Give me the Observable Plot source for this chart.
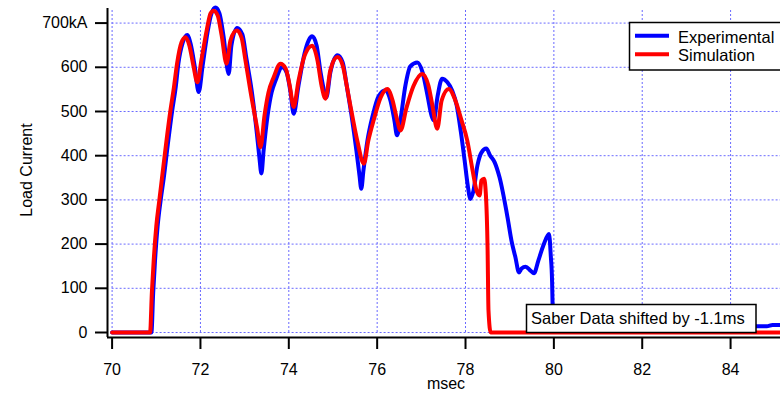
<!DOCTYPE html>
<html><head><meta charset="utf-8">
<script src="https://cdn.jsdelivr.net/npm/d3@7"></script>
<script src="https://cdn.jsdelivr.net/npm/@observablehq/plot@0.6"></script>
<style>
body{margin:0;background:#fff;}
svg{font-family:"Liberation Sans",Arial,sans-serif;}
</style>
</head><body><div id="chart"></div>
<script>
const xTicks = [70, 72, 74, 76, 78, 80, 82, 84];
const yTicks = [0, 100, 200, 300, 400, 500, 600, 700];
const yTickLabels = ["0", "100", "200", "300", "400", "500", "600", "700kA"];
const seriesNames = ["Experimental", "Simulation"];
const seriesColors = ["#0000ff", "#ff0000"];
const note = "Saber Data shifted by -1.1ms";
const xLabel = "msec";
const yLabel = "Load Current";

const expTime = [70.00,70.89,70.93,70.97,71.03,71.10,71.17,71.26,71.36,71.44,71.50,71.60,71.70,71.78,71.87,71.96,72.05,72.16,72.25,72.34,72.43,72.52,72.64,72.70,72.83,72.95,73.04,73.16,73.27,73.33,73.38,73.43,73.52,73.61,73.70,73.85,73.95,74.04,74.11,74.22,74.36,74.45,74.53,74.63,74.72,74.81,74.85,74.94,75.10,75.22,75.31,75.42,75.53,75.60,75.64,75.69,75.78,75.90,76.03,76.19,76.30,76.39,76.45,76.53,76.64,76.75,76.91,77.03,77.14,77.23,77.28,77.37,77.47,77.59,77.70,77.80,77.89,77.98,78.05,78.11,78.18,78.27,78.36,78.47,78.56,78.66,78.77,78.95,79.04,79.13,79.21,79.27,79.36,79.47,79.55,79.65,79.77,79.89,79.93,79.96,79.97,79.99,80.15,81.0,82.0,83.0,84.0,84.59,84.82,84.95,85.13];
const expCurrent = [0,0,90,160,240,300,350,425,502,555,608,656,673,652,602,544,604,679,722,735,722,672,585,649,689,674,620,547,457,400,360,412,491,543,570,600,588,543,495,559,633,661,670,649,588,543,532,588,627,611,559,491,412,355,325,367,434,491,534,548,525,480,446,484,559,602,611,588,536,491,480,536,574,566,547,514,457,389,333,302,321,378,407,416,400,385,351,261,208,170,136,145,149,140,134,163,199,223,174,114,68,27,9,10,11,12,13,14,14,17,17];

const simTime = [70.00,70.86,70.90,70.94,71.00,71.07,71.13,71.22,71.32,71.40,71.47,71.57,71.66,71.75,71.84,71.93,72.02,72.14,72.23,72.30,72.39,72.48,72.59,72.68,72.82,72.93,73.02,73.13,73.28,73.36,73.45,73.54,73.66,73.81,73.93,74.02,74.11,74.22,74.36,74.53,74.65,74.74,74.83,74.94,75.10,75.22,75.31,75.40,75.55,75.70,75.80,75.92,76.08,76.23,76.35,76.44,76.53,76.66,76.82,77.02,77.16,77.25,77.36,77.46,77.62,77.77,77.91,78.04,78.16,78.25,78.32,78.36,78.42,78.46,78.50,78.52,78.57,85.13];
const simCurrent = [0,0,90,160,240,300,350,425,502,555,608,656,668,649,604,566,615,683,722,728,717,672,608,661,683,667,615,547,464,419,491,543,578,608,597,559,510,570,627,649,615,559,529,593,623,604,559,510,434,382,434,480,532,551,525,486,457,507,557,585,559,514,461,525,551,525,480,434,367,321,310,344,348,314,186,50,0,0];

const xMin = 69.896, xMax = 85.13, yMin = -11.3, yMax = 733;
const expData = expTime.map((t, i) => ({t, v: expCurrent[i]}));
const simData = simTime.map((t, i) => ({t, v: simCurrent[i]}));
const gridStyle = {stroke: "#6a6aff", strokeWidth: 1, strokeDasharray: "2,2"};

const chart = Plot.plot({
  width: 780, height: 396,
  marginLeft: 107, marginRight: 0, marginTop: 8, marginBottom: 59,
  x: {domain: [xMin, xMax]},
  y: {domain: [yMin, yMax]},
  style: {fontFamily: "'Liberation Sans', Arial, sans-serif", fontSize: "16px", color: "black", background: "white", overflow: "visible"},
  marks: [
    Plot.ruleY(yTicks, {y: d => d, x1: 70, x2: xMax, ...gridStyle}),
    Plot.ruleX(xTicks, {x: d => d, y1: 0, y2: yMax, ...gridStyle}),
    Plot.line(expData, {x: "t", y: "v", stroke: seriesColors[0], strokeWidth: 4, curve: "monotone-x"}),
    Plot.line(simData, {x: "t", y: "v", stroke: seriesColors[1], strokeWidth: 4, curve: "monotone-x"}),
    Plot.ruleX([xMin], {stroke: "black", strokeWidth: 2}),
    Plot.ruleY([yMin], {stroke: "black", strokeWidth: 2}),
    Plot.axisX(xTicks, {tickSize: 12, tickPadding: 14, strokeWidth: 2, fontSize: 16, label: null}),
    Plot.axisY(yTicks, {tickSize: 12, tickPadding: 8, strokeWidth: 2, fontSize: 16, label: null,
      tickFormat: d => yTickLabels[yTicks.indexOf(d)]})
  ]
});
document.getElementById("chart").appendChild(chart);

const svg = d3.select(chart);
// legend
const lg = svg.append("g").attr("text-anchor", "start");
lg.append("rect").attr("x", 629.5).attr("y", 22.5).attr("width", 170).attr("height", 47.5)
  .attr("fill", "white").attr("stroke", "black").attr("stroke-width", 1.5);
seriesNames.forEach((name, i) => {
  const yy = 35.7 + i * 18.5;
  lg.append("line").attr("x1", 635).attr("x2", 669).attr("y1", yy).attr("y2", yy)
    .attr("stroke", seriesColors[i]).attr("stroke-width", 4);
  lg.append("text").attr("x", 678).attr("y", yy + 7).attr("font-size", 16.5).attr("fill", "black").text(name);
});
// annotation
const ag = svg.append("g").attr("text-anchor", "start");
ag.append("rect").attr("x", 526.5).attr("y", 304.5).attr("width", 229.5).attr("height", 28)
  .attr("fill", "white").attr("stroke", "black").attr("stroke-width", 1.5);
ag.append("text").attr("x", 531).attr("y", 323.5).attr("font-size", 16.5).attr("fill", "black").text(note);
// axis labels
svg.append("text").attr("transform", "translate(32,170) rotate(-90)").attr("text-anchor", "middle")
  .attr("font-size", 16).attr("fill", "black").text(yLabel);
svg.append("text").attr("x", 446).attr("y", 389).attr("text-anchor", "middle")
  .attr("font-size", 16).attr("fill", "black").text(xLabel);
</script>
</body></html>
